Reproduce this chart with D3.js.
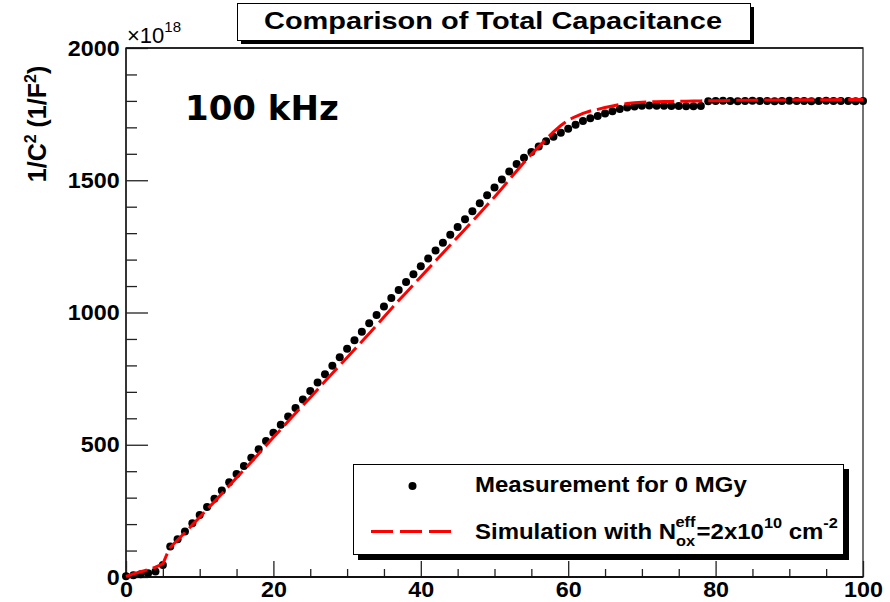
<!DOCTYPE html>
<html><head><meta charset="utf-8">
<script src="https://cdn.jsdelivr.net/npm/d3@7"></script>
<style>body{margin:0;background:#fff}svg{display:block}</style>
</head><body>
<svg id="c" width="890" height="602"></svg>
<script>
// ---- data ----
const measX = [0,1,2,3,4,5,6,7,8,9,10,11,12,13,14,15,16,17,18,19,20,21,22,23,24,25,26,27,28,29,30,31,32,33,34,35,36,37,38,39,40,41,42,43,44,45,46,47,48,49,50,51,52,53,54,55,56,57,58,59,60,61,62,63,64,65,66,67,68,69,70,71,72,73,74,75,76,77,78,79,80,81,82,83,84,85,86,87,88,89,90,91,92,93,94,95,96,97,98,99,100];
const measY = [3,7,10,14,21,45,115,143,172,203,234,265,296,327,358,389,420,451,483,514,545,576,607,639,671,703,735,767,799,831,863,895,927,959,991,1023,1055,1085,1115,1145,1175,1204,1234,1264,1294,1323,1353,1383,1413,1443,1473,1503,1533,1561,1585,1607,1628,1647,1664,1680,1695,1710,1724,1734,1743,1752,1761,1769,1775,1779,1782,1783,1782,1782,1781,1781,1780,1780,1781,1799,1800,1801,1800,1799,1800,1801,1800,1800,1799,1800,1801,1800,1800,1799,1800,1801,1800,1800,1800,1799,1800];
const simX = [0,1,2,3,4,5,5.5,6,7,8,9,10,11,12,13,14,15,16,17,18,19,20,21,22,23,24,25,26,27,28,29,30,31,32,33,34,35,36,37,38,39,40,41,42,43,44,45,46,47,48,49,50,51,52,53,54,55,56,57,58,59,60,61,62,63,64,65,66,67,68,69,70,71,72,73,74,75,76,77,78,79,80,81,82,83,84,85,86,87,88,89,90,91,92,93,94,95,96,97,98,99,100];
const simY = [2,12,20,28,37,50,83,112,140,168,197,226,256,285,315,345,375,405,435,466,497,528,558,589,619,649,679,709,740,770,800,830,860,890,921,952,983,1014,1045,1075,1105,1135,1165,1195,1225,1255,1285,1315,1345,1375,1406,1437,1469,1502,1535,1567,1598,1627,1655,1683,1707,1727,1741,1753,1762,1768,1775,1781,1786,1790,1793,1795,1796,1797,1798,1798,1799,1799,1800,1800,1801,1801,1801,1802,1802,1802,1802,1803,1803,1803,1803,1803,1804,1804,1804,1804,1804,1804,1805,1805,1805,1805];
const xMajor = [0,20,40,60,80,100];
const xMinor = [5,10,15,25,30,35,45,50,55,65,70,75,85,90,95];
const yMajor = [0,500,1000,1500,2000];
const yMinor = [100,200,300,400,600,700,800,900,1100,1200,1300,1400,1600,1700,1800,1900];
const titleText = "Comparison of Total Capacitance";
const freqText = "100 kHz";
const legendMeas = "Measurement for 0 MGy";

// ---- layout ----
const svg = d3.select("#c");
const L = 126, R = 863, T = 48, B = 577;
const x = d3.scaleLinear().domain([0,100]).range([L,R]);
const y = d3.scaleLinear().domain([0,2000]).range([B,T]);
const FONT = "'Liberation Sans', Arial, Helvetica, sans-serif";

svg.append("rect").attr("width",890).attr("height",602).attr("fill","#fff");

// frame
svg.append("rect").attr("x",L).attr("y",T).attr("width",R-L).attr("height",B-T)
  .attr("fill","none").attr("stroke","#444").attr("stroke-width",1.5);

// axes
function styleAxis(g){ g.select(".domain").remove(); g.selectAll("line").attr("stroke","#222").attr("stroke-width",1.3); }
const gx = svg.append("g").attr("transform",`translate(0,${B})`);
gx.call(d3.axisBottom(x).tickValues(xMajor).tickSize(-16).tickPadding(4).tickFormat(d3.format("d"))).call(styleAxis);
gx.append("g").call(d3.axisBottom(x).tickValues(xMinor).tickSize(-8).tickFormat("")).call(styleAxis);
gx.selectAll("text").attr("font-family",FONT).attr("font-weight","bold").attr("font-size",22).attr("fill","#000")
  .attr("transform","scale(1.06,1)");

const gy = svg.append("g").attr("transform",`translate(${L},0)`);
gy.call(d3.axisLeft(y).tickValues(yMajor).tickSize(-22).tickPadding(6).tickFormat(d3.format("d"))).call(styleAxis);
gy.append("g").call(d3.axisLeft(y).tickValues(yMinor).tickSize(-11).tickFormat("")).call(styleAxis);
gy.selectAll("text").attr("font-family",FONT).attr("font-weight","bold").attr("font-size",22).attr("fill","#000")
  .attr("transform","scale(1.06,1)");

// axis lines
svg.append("line").attr("x1",L).attr("x2",L).attr("y1",T).attr("y2",B).attr("stroke","#222").attr("stroke-width",1.5);
svg.append("line").attr("x1",L).attr("x2",R).attr("y1",B).attr("y2",B).attr("stroke","#111").attr("stroke-width",2);
svg.append("line").attr("x1",L).attr("x2",R).attr("y1",T).attr("y2",T).attr("stroke","#111").attr("stroke-width",1.5);

// exponent label
const ex = svg.append("text").attr("x",127).attr("y",43).attr("font-family",FONT).attr("font-size",22).attr("fill","#000");
ex.append("tspan").text("\u00d710");
ex.append("tspan").attr("font-size",15).attr("dy",-11).text("18");

// y axis title
const yt = svg.append("text").attr("transform","translate(46,124) rotate(-90)").attr("text-anchor","middle")
  .attr("font-family",FONT).attr("font-weight","bold").attr("font-size",25).attr("fill","#000");
yt.append("tspan").text("1/C");
yt.append("tspan").attr("font-size",16).attr("dy",-10).text("2");
yt.append("tspan").attr("dy",10).text(" (1/F");
yt.append("tspan").attr("font-size",16).attr("dy",-10).text("2");
yt.append("tspan").attr("dy",10).text(")");

// data: measurement markers
svg.append("g").selectAll("circle").data(measX.map((v,i)=>[v,measY[i]])).join("circle")
  .attr("cx",d=>x(d[0])).attr("cy",d=>y(d[1])).attr("r",4).attr("fill","#000");

// simulation dashed line
const line = d3.line().x(d=>x(d[0])).y(d=>y(d[1]));
svg.append("path").datum(simX.map((v,i)=>[v,simY[i]])).attr("d",line)
  .attr("fill","none").attr("stroke","#ff0000").attr("stroke-width",3).attr("stroke-dasharray","22,6");

// 100 kHz
svg.append("text").attr("x",185).attr("y",120).attr("font-family","'DejaVu Sans', sans-serif")
  .attr("font-weight","bold").attr("font-size",34).attr("fill","#000").text(freqText);

// title box
svg.append("rect").attr("x",241).attr("y",7).attr("width",513).attr("height",37).attr("fill","#000");
svg.append("rect").attr("x",237.5).attr("y",3.5).attr("width",513).attr("height",37).attr("fill","#fff").attr("stroke","#000").attr("stroke-width",1);
svg.append("text").attr("x",493).attr("y",29).attr("text-anchor","middle").attr("font-family",FONT)
  .attr("font-weight","bold").attr("font-size",24).attr("fill","#000")
  .attr("textLength",458).attr("lengthAdjust","spacingAndGlyphs").text(titleText);

// legend
const lg = svg.append("g");
lg.append("rect").attr("x",358).attr("y",469).attr("width",491).attr("height",91).attr("fill","#000");
lg.append("rect").attr("x",353.5).attr("y",464.5).attr("width",490).attr("height",90).attr("fill","#fff").attr("stroke","#000").attr("stroke-width",1);
lg.append("circle").attr("cx",412.5).attr("cy",486).attr("r",4).attr("fill","#000");
lg.append("line").attr("x1",371).attr("x2",451).attr("y1",531.5).attr("y2",531.5)
  .attr("stroke","#ff0000").attr("stroke-width",3).attr("stroke-dasharray","22,7");
lg.append("text").attr("transform","translate(475,492) scale(1.09,1)").attr("font-family",FONT)
  .attr("font-weight","bold").attr("font-size",22).attr("fill","#000").text(legendMeas);
const l2 = lg.append("text").attr("transform","translate(475,539) scale(1.09,1)").attr("font-family",FONT)
  .attr("font-weight","bold").attr("font-size",22).attr("fill","#000");
l2.append("tspan").text("Simulation with N");
l2.append("tspan").attr("font-size",15).attr("dy",7).text("ox");
l2.append("tspan").attr("font-size",15).attr("dx",-18).attr("dy",-19).text("eff");
l2.append("tspan").attr("dy",12).attr("dx",1).text("=2x10");
l2.append("tspan").attr("font-size",15).attr("dy",-11).text("10");
l2.append("tspan").attr("dy",11).text(" cm");
l2.append("tspan").attr("font-size",15).attr("dy",-11).text("-2");
</script>
</body></html>
